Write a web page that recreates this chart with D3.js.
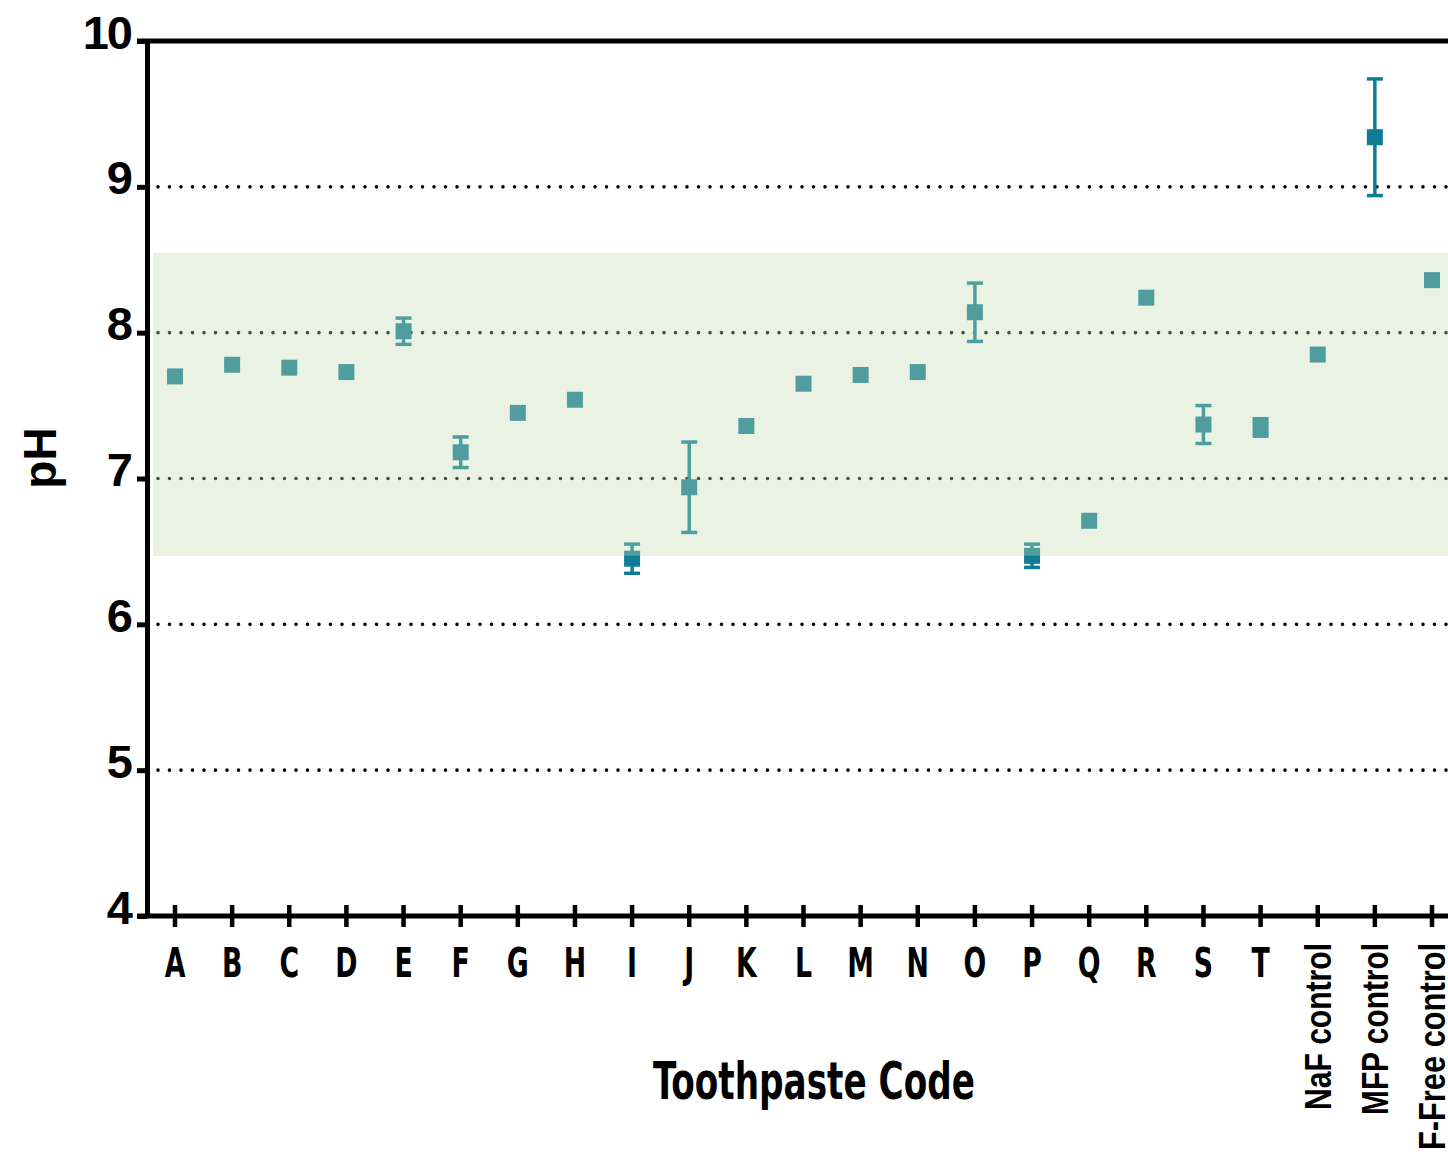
<!DOCTYPE html>
<html lang="en">
<head>
<meta charset="utf-8">
<title>Toothpaste pH</title>
<script src="https://cdn.jsdelivr.net/npm/d3@7"></script>
<style>
  body { margin: 0; background: #fff; }
  svg { display: block; }
</style>
</head>
<body>
<script>
// categories along the x axis
var categories = ["A","B","C","D","E","F","G","H","I","J","K","L","M","N","O","P","Q","R","S","T",
                  "NaF control","MFP control","F-Free control"];
// mean pH and error (+/-) for each toothpaste
var phValues = [7.70,7.78,7.76,7.73,8.01,7.18,7.45,7.54,6.45,6.94,7.36,7.65,7.71,7.73,8.14,6.47,6.71,8.24,7.37,7.35,7.85,9.34,8.36];
var phErrors = [0,0,0,0,0.09,0.105,0,0,0.10,0.31,0,0,0,0,0.20,0.08,0,0,0.13,0.06,0,0.40,0];
var yTicks = [4,5,6,7,8,9,10];
var gridVals = [5,6,7,8,9];
var band = [6.47, 8.55];

var W = 1448, H = 1154;
var plotLeft = 147, plotRight = 1448, plotTop = 41, plotBottom = 916;

var svg = d3.select("body").append("svg")
  .attr("width", W).attr("height", H);

var x = d3.scalePoint().domain(categories).range([175, 1432]);
var y = d3.scaleLinear().domain([4, 10]).range([plotBottom, plotTop]);

// dotted grid lines
svg.selectAll("line.grid")
  .data(gridVals)
  .enter().append("line")
  .attr("class", "grid")
  .attr("x1", 158).attr("x2", plotRight)
  .attr("y1", function(d) { return y(d); })
  .attr("y2", function(d) { return y(d); })
  .attr("stroke", "#000")
  .attr("stroke-width", 3.6)
  .attr("stroke-linecap", "round")
  .attr("stroke-dasharray", "0 11.5");

// points with error bars
var data = categories.map(function(c, i) {
  return {cat: c, v: phValues[i], e: phErrors[i]};
});
var withErr = data.filter(function(d) { return d.e > 0; });
var teal = "#0f7b94";
var pts = svg.append("g");

pts.selectAll("line.bar").data(withErr).enter().append("line")
  .attr("class", "bar")
  .attr("x1", function(d) { return x(d.cat); })
  .attr("x2", function(d) { return x(d.cat); })
  .attr("y1", function(d) { return y(d.v + d.e); })
  .attr("y2", function(d) { return y(d.v - d.e); })
  .attr("stroke", teal).attr("stroke-width", 3.5);

[1, -1].forEach(function(s) {
  pts.selectAll("line.cap" + (s > 0 ? "up" : "down")).data(withErr).enter().append("line")
    .attr("class", "cap" + (s > 0 ? "up" : "down"))
    .attr("x1", function(d) { return x(d.cat) - 8; })
    .attr("x2", function(d) { return x(d.cat) + 8; })
    .attr("y1", function(d) { return y(d.v + s * d.e); })
    .attr("y2", function(d) { return y(d.v + s * d.e); })
    .attr("stroke", teal).attr("stroke-width", 3.5);
});

pts.selectAll("rect").data(data).enter().append("rect")
  .attr("x", function(d) { return x(d.cat) - 8; })
  .attr("y", function(d) { return y(d.v) - 8; })
  .attr("width", 16).attr("height", 16)
  .attr("fill", teal);

// translucent green band laid over the points
svg.append("rect")
  .attr("x", 153).attr("width", plotRight - 153)
  .attr("y", y(band[1])).attr("height", y(band[0]) - y(band[1]))
  .attr("fill", "rgb(197,219,180)")
  .attr("fill-opacity", 0.36);

// y axis
var yAxis = d3.axisLeft(y).tickValues(yTicks).tickSize(10).tickSizeOuter(0)
  .tickFormat(d3.format("d"));
var gy = svg.append("g").attr("transform", "translate(" + plotLeft + ",0)").call(yAxis);
gy.select(".domain").attr("stroke", "#000").attr("stroke-width", 5);
gy.selectAll(".tick line").attr("stroke", "#000").attr("stroke-width", 5);
gy.selectAll(".tick text")
  .attr("x", -16).attr("dy", 7)
  .attr("font-family", "Liberation Sans, Arial, sans-serif")
  .attr("font-weight", "bold")
  .attr("font-size", 47)
  .attr("letter-spacing", -2)
  .attr("fill", "#000");

// top frame line and x axis line
svg.append("line").attr("x1", 137).attr("x2", plotRight).attr("y1", plotTop).attr("y2", plotTop)
  .attr("stroke", "#000").attr("stroke-width", 5);
svg.append("line").attr("x1", 137).attr("x2", plotRight).attr("y1", plotBottom).attr("y2", plotBottom)
  .attr("stroke", "#000").attr("stroke-width", 5);

// x ticks crossing the axis
svg.selectAll("line.xtick")
  .data(categories)
  .enter().append("line")
  .attr("class", "xtick")
  .attr("x1", function(d) { return x(d); })
  .attr("x2", function(d) { return x(d); })
  .attr("y1", plotBottom - 11).attr("y2", plotBottom + 11)
  .attr("stroke", "#000").attr("stroke-width", 4.5);

// letter labels
var letters = categories.filter(function(d) { return d.length === 1; });
svg.selectAll("text.xlab")
  .data(letters)
  .enter().append("text")
  .attr("class", "xlab")
  .attr("transform", function(d) { return "translate(" + x(d) + ",977) scale(0.85,1.15)"; })
  .attr("text-anchor", "middle")
  .attr("font-family", "DejaVu Sans Condensed, DejaVu Sans, sans-serif")
  .attr("font-stretch", "condensed")
  .attr("font-weight", "bold")
  .attr("font-size", 35)
  .text(function(d) { return d; });

// control labels (rotated)
var controls = categories.filter(function(d) { return d.length > 1; });
var ctrlLen = {"NaF control": 167, "MFP control": 172, "F-Free control": 207};
svg.selectAll("text.ctrl")
  .data(controls)
  .enter().append("text")
  .attr("class", "ctrl")
  .attr("transform", function(d) { return "translate(" + (x(d) + 13) + ",943) rotate(-90)"; })
  .attr("text-anchor", "end")
  .attr("font-family", "Liberation Sans, Arial, sans-serif")
  .attr("font-weight", "bold")
  .attr("font-size", 36)
  .attr("textLength", function(d) { return ctrlLen[d]; })
  .attr("lengthAdjust", "spacingAndGlyphs")
  .text(function(d) { return d; });

// axis titles
svg.append("text")
  .attr("x", 653).attr("y", 1099)
  .attr("font-family", "DejaVu Sans Condensed, DejaVu Sans, sans-serif")
  .attr("font-weight", "bold")
  .attr("font-size", 51)
  .attr("textLength", 322)
  .attr("lengthAdjust", "spacingAndGlyphs")
  .text("Toothpaste Code");

svg.append("text")
  .attr("transform", "translate(56,458) rotate(-90)")
  .attr("text-anchor", "middle")
  .attr("font-family", "Liberation Sans, Arial, sans-serif")
  .attr("font-weight", "bold")
  .attr("font-size", 46)
  .text("pH");
</script>
</body>
</html>
